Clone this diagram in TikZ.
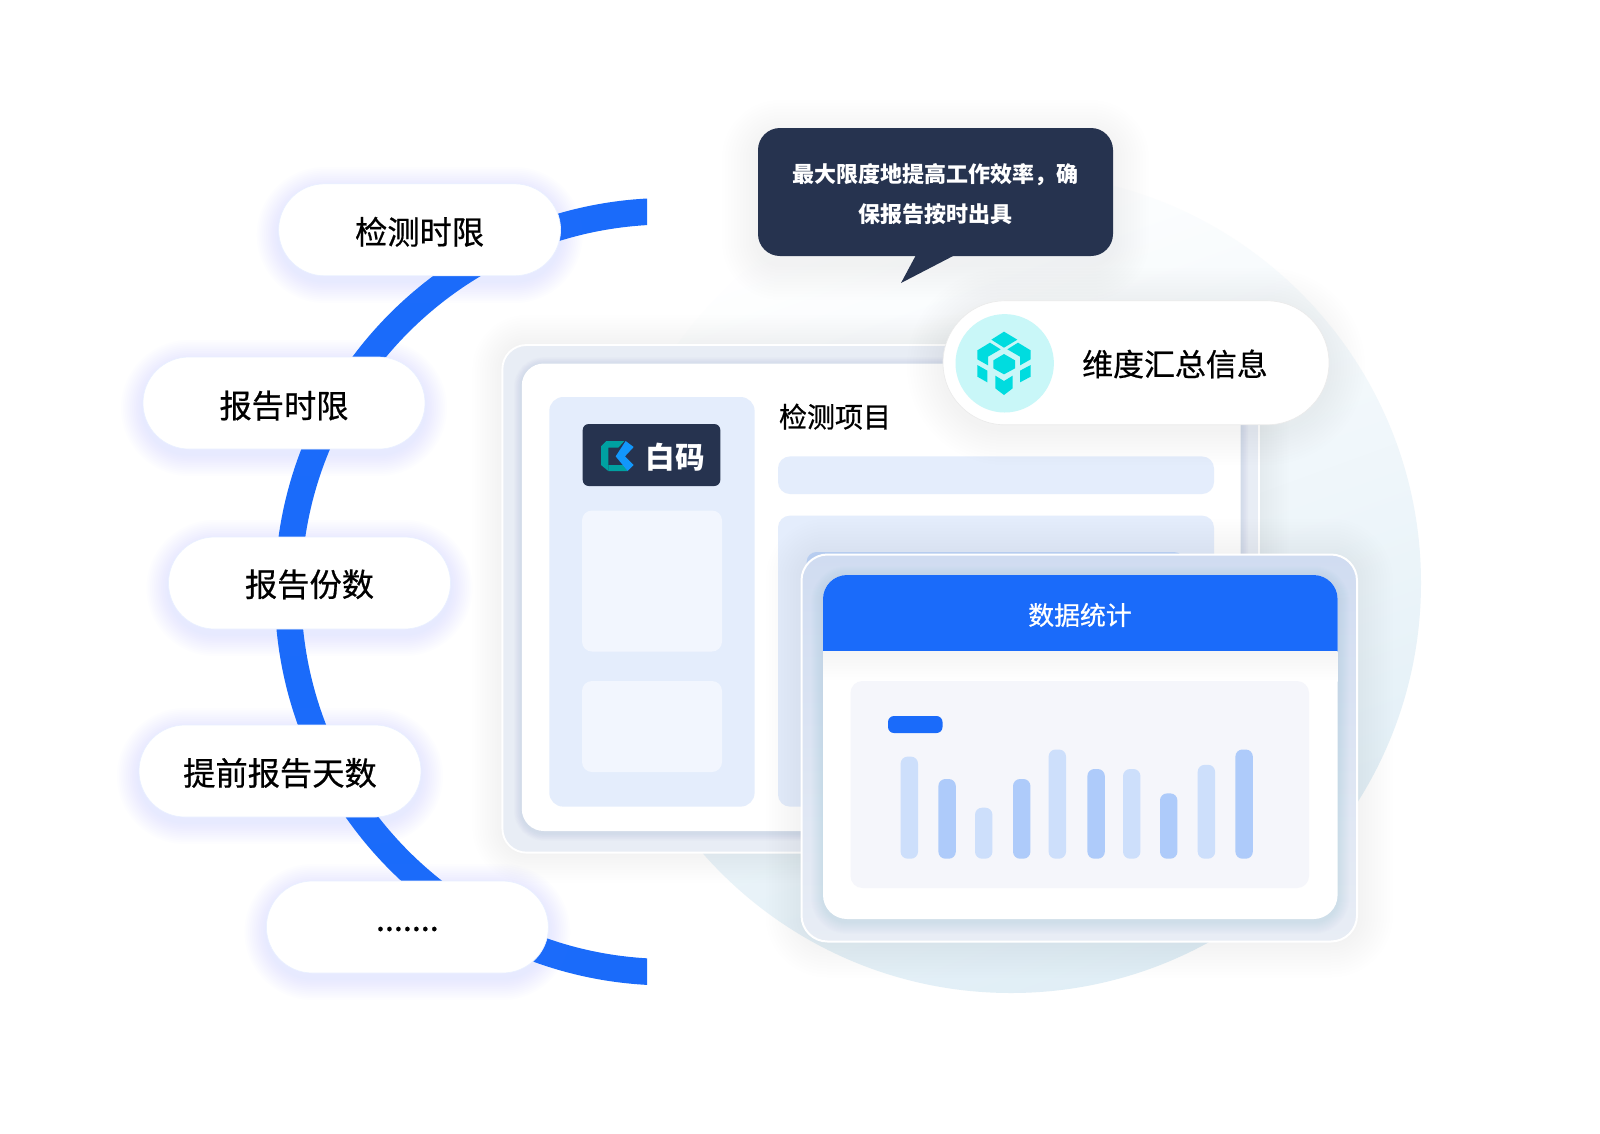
\documentclass[tikz,border=0pt]{standalone}
\usepackage{fontspec}
\setmainfont{Noto Sans CJK SC}
\newfontfamily\medfont[FakeBold=0.6]{Noto Sans CJK SC}
\definecolor{arcblue}{HTML}{1A6BFA}
\definecolor{navy}{HTML}{26334F}
\definecolor{pale}{HTML}{E4EDFC}
\definecolor{paler}{HTML}{F2F6FE}
\definecolor{barA}{HTML}{CDDFFB}
\definecolor{barB}{HTML}{AECBFA}
\definecolor{chartbg}{HTML}{F5F6FB}
\definecolor{mint}{HTML}{C9F7F8}
\definecolor{teal1}{HTML}{00DCDF}
\definecolor{pillshadow}{HTML}{6F98FF}
\definecolor{greyshadow}{HTML}{7F8CA8}
\definecolor{cardshadow}{HTML}{4A6A9C}
\definecolor{framefill}{HTML}{E8EDF5}
\definecolor{circletop}{HTML}{FFFFFF}
\definecolor{circlebottom}{HTML}{E0EEF6}
\newcommand{\rrect}[6]{\path[#6,rounded corners=#5*0.75pt] (#1,#2) rectangle (#3,#4);}
\newcommand{\softshadow}[8]{%
  \foreach \i in {1,...,12}{%
    \pgfmathsetmacro{\dd}{#6*(13-\i)/12}%
    \fill[#7,opacity=#8,rounded corners={(#5+\dd)*0.75pt}] ({#1-\dd},{#2-\dd}) rectangle ({#3+\dd},{#4+\dd});
  }}
\tikzset{
  pillbody/.style={rectangle,rounded corners=34.5pt,fill=white,draw=pillshadow!15!white,line width=.5pt,
    minimum width=211.5pt,minimum height=69pt,inner sep=0pt},
  pilllabel/.style={text=black,inner sep=0pt,font=\fontsize{24.2}{24}\medfont},
  cubepart/.style={fill=teal1},
}
\begin{document}
\begin{tikzpicture}[x=0.75pt,y=-0.75pt]
\useasboundingbox (0,0) rectangle (1600,1133);
\fill[white] (0,0) rectangle (1600,1133);

% big pale circle
\shade[top color=circletop,bottom color=circlebottom,shading angle=20] (1011,583) circle[radius=410];

% blue arc
\begin{scope}
  \clip (0,0) rectangle (647,1133);
  \draw[arcblue,line width=19.9pt] (668.5,591.7) circle[radius=380.5];
\end{scope}

% back window
\softshadow{502.4}{345}{1259}{852.6}{24}{30}{greyshadow}{0.004}
\rrect{502.4}{345}{1259}{852.6}{24}{fill=framefill,draw=white,line width=1.4pt}
\softshadow{521.8}{365}{1240.6}{833}{22}{8}{greyshadow}{0.012}
\rrect{521.8}{363.5}{1240.6}{831}{22}{fill=white}
\rrect{549.3}{397}{754.6}{806.6}{14}{fill=pale}
\rrect{582.7}{424}{720.3}{486}{6}{fill=navy}
\rrect{582}{510.5}{722}{651.5}{10}{fill=paler}
\rrect{582}{681}{722}{772}{10}{fill=paler}
\begin{scope}[shift={(595,435)},x=0.25pt,y=-0.25pt]
  \fill[teal!60!cyan!90!black] (34,18) -- (88,18) -- (70,38) -- (40,38) -- (40,108) -- (18,90) -- (18,34) -- cycle;
  \fill[teal!60!cyan!90!black] (40,90) -- (86,90) -- (98,108) -- (40,108) -- cycle;
  \fill[arcblue!70!cyan] (92,18) -- (116,36) -- (90,64) -- (116,90) -- (98,108) -- (62,64) -- cycle;
\end{scope}
\node[text=white,font=\fontsize{22.2}{22}\selectfont\bfseries,inner sep=0pt] (logotxt) at (675,457) {白码};
\node[text=black,font=\fontsize{21}{21}\medfont,inner sep=0pt] (projtitle) at (835,416.6) {检测项目};
\rrect{778}{456.4}{1214}{494}{12}{fill=pale}
\rrect{778}{515.6}{1214}{806.6}{12}{fill=pale}
\rrect{806.6}{552}{1184}{620}{10}{fill=barB!75!white}

% front card
\softshadow{801.5}{554.5}{1357}{941.5}{26}{36}{greyshadow}{0.004}
\path[top color={rgb,255:red,208;green,220;blue,241},bottom color=framefill,rounded corners=19.5pt] (801.5,554.5) rectangle (1357,941.5);
\begin{scope}
  \path[clip,rounded corners=19.5pt] (801.5,554.5) rectangle (1357,941.5);
  \softshadow{823}{578}{1337.6}{922}{24}{12}{cardshadow}{0.009}
\end{scope}
\rrect{801.5}{554.5}{1357}{941.5}{26}{draw=white,line width=1.5pt}
\rrect{823}{575}{1337.6}{919}{24}{fill=white}
\begin{scope}
  \path[clip,rounded corners=18pt] (823,575) rectangle (1337.6,919);
  \fill[arcblue] (823,575) rectangle (1337.6,651.5);
  \shade[top color=black!4,bottom color=white] (823,651.5) rectangle (1337.6,681);
\end{scope}
\node[text=white,font=\fontsize{19.4}{20}\medfont,inner sep=0pt] (cardtitle) at (1080,615) {数据统计};
\rrect{850.5}{681}{1309}{888}{12}{fill=chartbg}
\rrect{888}{716}{942.5}{733}{6}{fill=arcblue}
\foreach \xx/\tt/\cc in {900.6/756.6/barA,938.4/779/barB,975/807.7/barA,1013/779/barB,1048.6/749.5/barA,1087.4/769/barB,1123/769/barA,1160/793.4/barB,1197.7/764.8/barA,1235.4/749.5/barB}{
  \rrect{\xx}{\tt}{\xx+17.4}{858.7}{7}{fill=\cc}
}

% speech bubble
\softshadow{758}{136}{1113}{264}{22}{36}{greyshadow}{0.002}
\rrect{758}{128}{1113}{256}{22}{fill=navy}
\fill[navy] (916,255) -- (901,283) -- (955,255) -- cycle;
\node[text=white,font=\fontsize{16.5}{30}\selectfont\bfseries,align=center,inner sep=0pt] (bubbletxt) at (935.5,193.7) {最大限度地提高工作效率，确\\保报告按时出具};

% dimension pill
\softshadow{943}{304}{1329}{429}{62}{36}{greyshadow}{0.002}
\node[pillbody,rounded corners=46.5pt,minimum width=289.5pt,minimum height=93pt,draw=white!92!black] (dimpill) at (1136,362.8) {};
\node[circle,fill=mint,minimum size=73.8pt,inner sep=0pt] (dimicon) at (1004.7,363.3) {};
\begin{scope}[shift={(970,325)},x=0.25pt,y=-0.25pt]
  \fill[cubepart] (102,20) -- (142,44) -- (102,68) -- (64,44) -- cycle;
  \fill[cubepart] (60,53) -- (92,73) -- (54,95) -- (54,121) -- (22,103) -- (22,76) -- cycle;
  \fill[cubepart] (144,53) -- (112,73) -- (150,95) -- (150,121) -- (182,103) -- (182,76) -- cycle;
  \fill[cubepart] (102,87) -- (135,106) -- (135,130) -- (102,148) -- (70,130) -- (70,106) -- cycle;
  \fill[cubepart] (22,120) -- (52,137) -- (52,172) -- (22,155) -- cycle;
  \fill[cubepart] (182,120) -- (150,137) -- (150,172) -- (182,155) -- cycle;
  \fill[cubepart] (76,152) -- (102,168) -- (128,152) -- (128,190) -- (102,210) -- (76,190) -- cycle;
\end{scope}
\node[text=black,font=\fontsize{23.2}{23}\medfont,inner sep=0pt] (dimtxt) at (1175,364) {维度汇总信息};

% left pills
\softshadow{278.7}{189}{560.6}{281}{46}{22}{pillshadow}{0.010}
\softshadow{143}{362}{425}{454}{46}{22}{pillshadow}{0.010}
\softshadow{168.5}{542}{450.5}{634}{46}{22}{pillshadow}{0.010}
\softshadow{139}{730}{421}{822}{46}{22}{pillshadow}{0.010}
\softshadow{266.5}{886}{548.3}{978}{46}{22}{pillshadow}{0.010}
\node[pillbody] (p1) at (419.6,229.8) {};
\node[pillbody] (p2) at (284,403) {};
\node[pillbody] (p3) at (309.5,583) {};
\node[pillbody] (p4) at (280,771) {};
\node[pillbody] (p5) at (407.4,927) {};
\node[pilllabel,yshift=-1.5pt] (t1) at (p1.center) {检测时限};
\node[pilllabel,yshift=-2pt] (t2) at (p2.center) {报告时限};
\node[pilllabel,yshift=-1pt] (t3) at (p3.center) {报告份数};
\node[pilllabel,yshift=-1.5pt] (t4) at (p4.center) {提前报告天数};
\node[pilllabel,yshift=-1.5pt] (t5) at (p5.center) {.......};
\end{tikzpicture}
\end{document}
